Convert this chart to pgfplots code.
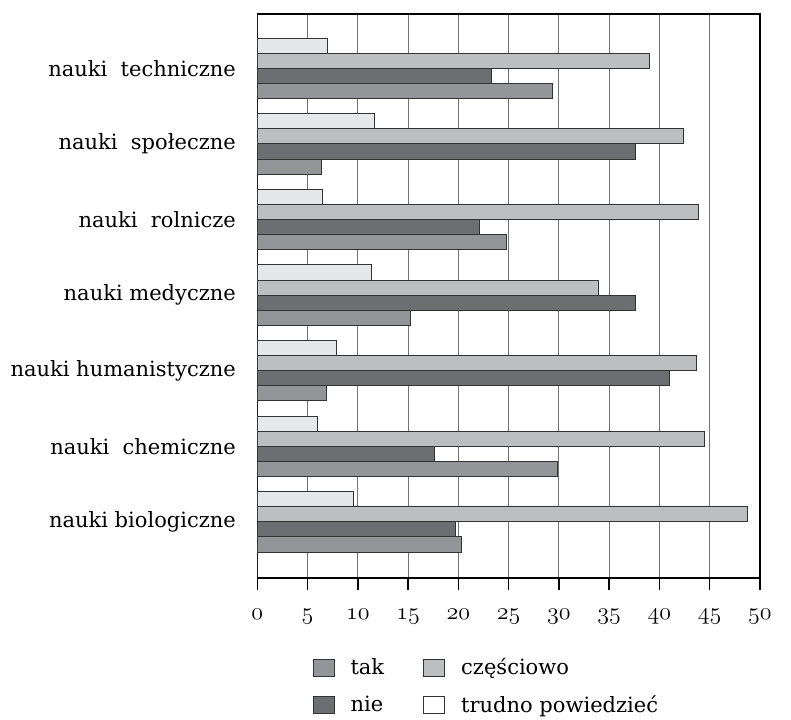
\documentclass[border=0pt]{standalone}
\usepackage{fontspec}
\setmainfont{DejaVu Serif}
\usepackage{pgfplots}
\usepackage{pgfplotstable}
\pgfplotsset{compat=1.18}
\definecolor{ctak}{HTML}{939598}
\definecolor{cnie}{HTML}{6D6E71}
\definecolor{ccz}{HTML}{BCBEC0}
\definecolor{ctr}{HTML}{E6E7E8}
\definecolor{edge}{HTML}{333333}
\pgfplotstableread{
y tak nie czesc trudno
0 20.3 19.7 48.8 9.6
1 29.9 17.6 44.5 6.0
2 6.9 41.0 43.7 7.9
3 15.2 37.6 33.9 11.4
4 24.8 22.1 43.9 6.5
5 6.4 37.6 42.4 11.7
6 29.4 23.3 39.0 7.0
}\datatable
\begin{document}
\begin{tikzpicture}
\begin{axis}[
  name=ax,
  scale only axis,
  width=251.3pt, height=282pt,
  xmin=0, xmax=50, ymin=-0.744, ymax=6.72,
  xbar, bar width=0.2,
  axis line style={black, line width=0.7pt},
  xtick={0,5,...,50},
  xticklabels={$\mathnormal{0}$,$\mathnormal{5}$,$\mathnormal{10}$,$\mathnormal{15}$,$\mathnormal{20}$,$\mathnormal{25}$,$\mathnormal{30}$,$\mathnormal{35}$,$\mathnormal{40}$,$\mathnormal{45}$,$\mathnormal{50}$},
  x tick label style={font=\fontsize{12}{14}\selectfont},
  tick align=outside, xtick pos=bottom,
  major tick length=6pt,
  xtick style={black, line width=0.7pt},
  xticklabel shift=6pt,
  xmajorgrids,
  grid style={color=black!55, line width=0.5pt},
  ytick={0,...,6},
  yticklabels={nauki biologiczne,nauki\ \ chemiczne,nauki humanistyczne,nauki medyczne,nauki\ \ rolnicze,nauki\ \ społeczne,nauki\ \ techniczne},
  y tick label style={font=\fontsize{10.5}{12.5}\selectfont},
  ytick style={draw=none},
  yticklabel shift=1.2pt,
  every axis plot/.append style={draw=edge, line width=0.5pt},
  legend columns=2,
  legend cell align=left,
  legend image code/.code={\draw[#1, line width=0.5pt] (0pt,-4.2pt) rectangle (10.5pt,4.2pt);},
  legend style={draw=none, fill=none, at={(0.109,-0.134)}, anchor=north west,
    inner sep=0pt, row sep=5pt,
    font=\fontsize{10.5}{12.5}\selectfont,
    /tikz/every odd column/.append style={column sep=6pt},
    /tikz/every even column/.append style={column sep=17.5pt}},
]
\addplot[fill=ctak, bar shift=-0.3, forget plot] table[x=tak, y=y]{\datatable};
\addplot[fill=cnie, bar shift=-0.1, forget plot] table[x=nie, y=y]{\datatable};
\addplot[fill=ccz, bar shift=0.1, forget plot] table[x=czesc, y=y]{\datatable};
\addplot[fill=ctr, bar shift=0.3, forget plot] table[x=trudno, y=y]{\datatable};
\addlegendimage{fill=ctak, draw=edge}
\addlegendentry{tak}
\addlegendimage{fill=ccz, draw=edge}
\addlegendentry{częściowo}
\addlegendimage{fill=cnie, draw=edge}
\addlegendentry{nie}
\addlegendimage{fill=white, draw=edge}
\addlegendentry{trudno powiedzieć}
\draw[black, line width=0.7pt] (rel axis cs:0,0) -- ++(-3.5pt,0);
\draw[black, line width=0.7pt] (rel axis cs:0,1) -- ++(-3.5pt,0);
\draw[black, line width=0.7pt] (rel axis cs:0,1) -- (rel axis cs:1,1) -- (rel axis cs:1,0);
\draw[black!80, line width=0.9pt] (rel axis cs:0,0) -- (rel axis cs:0,1);
\end{axis}
\path ([xshift=-128.65pt,yshift=-66.5pt]ax.south west) rectangle ([xshift=15.5pt,yshift=7pt]ax.north east);
\end{tikzpicture}
\end{document}
